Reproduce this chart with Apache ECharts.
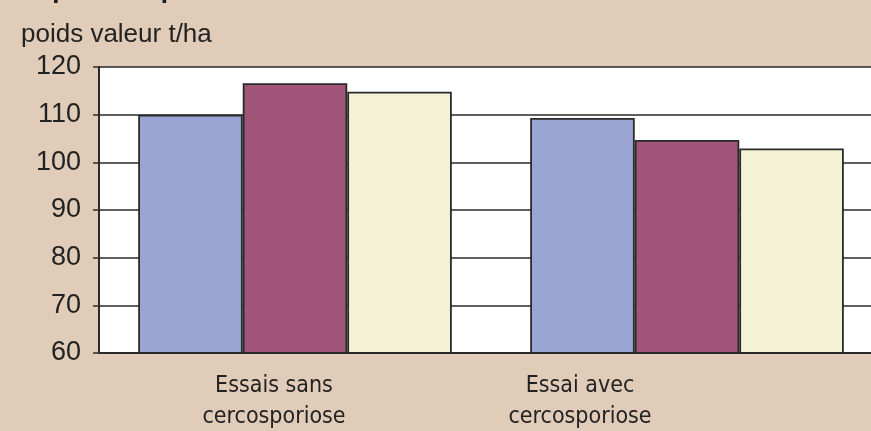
<!DOCTYPE html>
<html>
<head>
<meta charset="utf-8">
<script src="https://cdn.jsdelivr.net/npm/echarts@6/dist/echarts.min.js"></script>
<style>
  html, body { margin: 0; padding: 0; background: #e0ccb8; }
  #chart { width: 871px; height: 431px; }
</style>
</head>
<body>
<div id="chart"></div>
<script>
const categories = ['Essais sans\ncercosporiose', 'Essai avec\ncercosporiose']
const serieA = [110, 109.3]
const serieB = [116.6, 104.7]
const serieC = [114.8, 102.9]
const colors = ['#99a4d3', '#a05478', '#f3f2d4']

// labels sit left of the category centre in the original
const labelShift = [42, 214]

const chart = echarts.init(document.getElementById('chart'))

const barStyle = (color) => ({
  color: color,
  borderColor: '#2a2a2a',
  borderWidth: 1.8
})

const labelFont = 'DejaVu Sans Condensed, Liberation Sans Narrow, sans-serif'

chart.setOption({
  backgroundColor: '#e0ccb8',
  animation: false,
  title: [{
    text: 'Impact sur poids',
    left: 17,
    top: -27,
    textStyle: { fontFamily: 'Liberation Sans', fontWeight: 'bold', fontSize: 26, color: '#1a1a1a' }
  }, {
    text: 'poids valeur t/ha',
    left: 16,
    top: 17,
    textStyle: { fontFamily: 'Liberation Sans', fontWeight: 'normal', fontSize: 26, color: '#222' }
  }],
  grid: {
    left: 99,
    top: 67,
    width: 784,
    bottom: 78,
    outerBoundsMode: 'none',
    containLabel: false,
    show: true,
    backgroundColor: '#fff',
    borderWidth: 0
  },
  xAxis: {
    type: 'category',
    data: categories,
    axisLine: { lineStyle: { color: '#2a2a2a', width: 2 } },
    axisTick: { show: false },
    axisLabel: {
      margin: 18,
      formatter: (value, idx) => value.split('\n').map(s => '{l' + idx + '|' + s + '}').join('\n'),
      rich: {
        l0: { fontFamily: labelFont, fontSize: 23, color: '#222', lineHeight: 31, padding: [0, labelShift[0], 0, 0] },
        l1: { fontFamily: labelFont, fontSize: 23, color: '#222', lineHeight: 31, padding: [0, labelShift[1], 0, 0] }
      }
    }
  },
  yAxis: {
    type: 'value',
    min: 60,
    max: 120,
    interval: 10,
    axisLine: { show: true, lineStyle: { color: '#2a2a2a', width: 2 } },
    axisTick: { show: true, length: 6, lineStyle: { color: '#2a2a2a', width: 1.5 } },
    axisLabel: { fontFamily: 'Liberation Sans', fontSize: 27, color: '#222', margin: 18 },
    splitLine: { lineStyle: { color: '#2a2a2a', width: 1.5 } }
  },
  series: [
    { name: 'A', type: 'bar', data: serieA, itemStyle: barStyle(colors[0]), barGap: '0%', barCategoryGap: '20%' },
    { name: 'B', type: 'bar', data: serieB, itemStyle: barStyle(colors[1]) },
    { name: 'C', type: 'bar', data: serieC, itemStyle: barStyle(colors[2]) }
  ]
})
</script>
</body>
</html>
